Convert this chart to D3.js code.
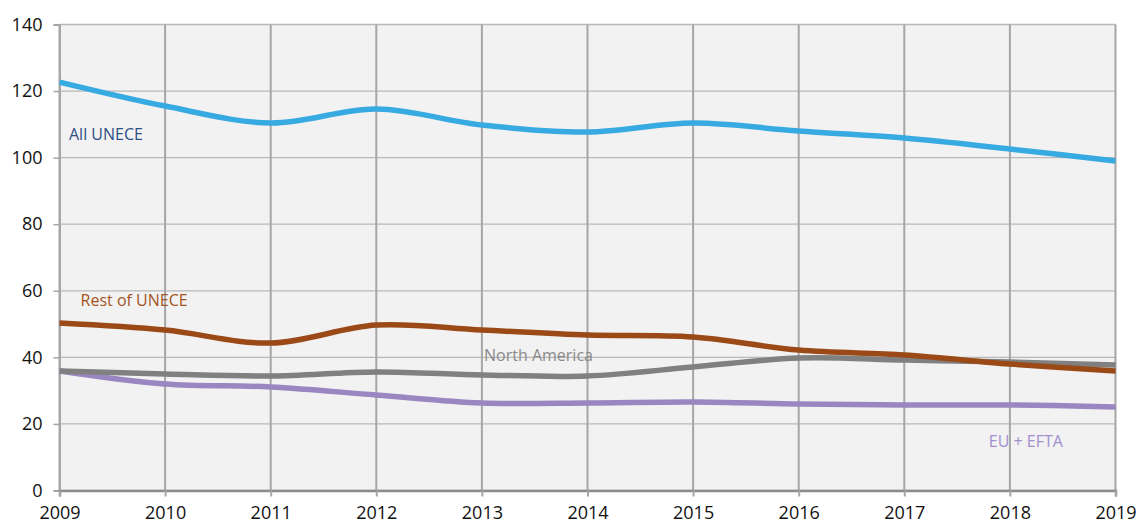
<!DOCTYPE html>
<html>
<head>
<meta charset="utf-8">
<script src="https://cdn.jsdelivr.net/npm/d3@7"></script>
<style>
  body { margin: 0; background: #fff; }
  svg { display: block; }
</style>
</head>
<body>
<div id="chart"></div>
<script>
// Data
const years = [2009, 2010, 2011, 2012, 2013, 2014, 2015, 2016, 2017, 2018, 2019];
const allUnece = [122.7, 115.5, 110.4, 114.6, 109.8, 107.7, 110.4, 108.0, 105.9, 102.6, 99.0];
const restOfUnece = [50.3, 48.2, 44.3, 49.7, 48.2, 46.7, 46.1, 42.2, 40.7, 38.0, 35.9];
const northAmerica = [35.9, 35.0, 34.4, 35.6, 34.7, 34.4, 37.1, 39.8, 39.2, 38.6, 37.7];
const euEfta = [35.9, 32.0, 31.1, 28.7, 26.3, 26.3, 26.6, 26.0, 25.7, 25.7, 25.1];
const yTicks = [0, 20, 40, 60, 80, 100, 120, 140];

const width = 1140, height = 525;
const margin = { top: 24.5, right: 24.5, bottom: 34.5, left: 59.5 };

const svg = d3.select('#chart')
  .append('svg')
  .attr('width', width)
  .attr('height', height);

const x = d3.scaleLinear()
  .domain([2009, 2019])
  .range([margin.left, width - margin.right]);

const y = d3.scaleLinear()
  .domain([0, 140])
  .range([height - margin.bottom, margin.top]);

// Plot background
svg.append('rect')
  .attr('x', margin.left)
  .attr('y', margin.top)
  .attr('width', x(2019) - x(2009))
  .attr('height', y(0) - y(140))
  .attr('fill', '#f2f2f2');

// Horizontal grid lines
svg.append('g')
  .selectAll('line')
  .data(yTicks)
  .join('line')
  .attr('x1', x(2009))
  .attr('x2', x(2019))
  .attr('y1', d => y(d))
  .attr('y2', d => y(d))
  .attr('stroke', '#b8b8b8')
  .attr('stroke-width', 1.3);

// Vertical grid lines
svg.append('g')
  .selectAll('line')
  .data(years)
  .join('line')
  .attr('x1', d => x(d))
  .attr('x2', d => x(d))
  .attr('y1', y(140))
  .attr('y2', y(0))
  .attr('stroke', '#a6a6a6')
  .attr('stroke-width', 2);

// Y axis
const yAxis = svg.append('g')
  .attr('transform', `translate(${margin.left},0)`)
  .call(d3.axisLeft(y).tickValues(yTicks).tickSize(6).tickPadding(11));
yAxis.select('.domain').attr('stroke', '#a6a6a6').attr('stroke-width', 2);
yAxis.selectAll('.tick line').attr('stroke', '#a6a6a6').attr('stroke-width', 1.5);
yAxis.selectAll('.tick text')
  .attr('font-family', '"Open Sans", sans-serif')
  .attr('font-size', 18)
  .attr('fill', '#111');

// X axis
const xAxis = svg.append('g')
  .attr('transform', `translate(0,${y(0)})`)
  .call(d3.axisBottom(x).tickValues(years).tickFormat(d3.format('d')).tickSize(6).tickPadding(10));
xAxis.select('.domain').attr('stroke', '#8c8c8c').attr('stroke-width', 2.5);
xAxis.selectAll('.tick line').attr('stroke', '#a6a6a6').attr('stroke-width', 2);
xAxis.selectAll('.tick text')
  .attr('font-family', '"Open Sans", sans-serif')
  .attr('font-size', 18)
  .attr('fill', '#111');

// Series
const series = [
  { name: 'EU + EFTA', values: euEfta, color: '#9a86c1', label: '#a18fd0', lx: 2017.8, ly: 13.0 },
  { name: 'North America', values: northAmerica, color: '#808080', label: '#8a8a8a', lx: 2013.02, ly: 38.8 },
  { name: 'Rest of UNECE', values: restOfUnece, color: '#9b4a17', label: '#a3541e', lx: 2009.2, ly: 55.5 },
  { name: 'All UNECE', values: allUnece, color: '#38aae2', label: '#2e4f86', lx: 2009.09, ly: 105.4 }
];

const line = d3.line()
  .x(d => x(d[0]))
  .y(d => y(d[1]))
  .curve(d3.curveCatmullRom.alpha(0.5));

svg.append('g')
  .selectAll('path')
  .data(series)
  .join('path')
  .attr('fill', 'none')
  .attr('stroke', d => d.color)
  .attr('stroke-width', 5.5)
  .attr('d', d => line(years.map((yr, i) => [yr, d.values[i]])));

// Series labels
svg.append('g')
  .selectAll('text')
  .data(series)
  .join('text')
  .attr('x', d => x(d.lx))
  .attr('y', d => y(d.ly))
  .attr('fill', d => d.label)
  .attr('font-family', '"Open Sans", sans-serif')
  .attr('font-size', 16)
  .text(d => d.name);
</script>
</body>
</html>
